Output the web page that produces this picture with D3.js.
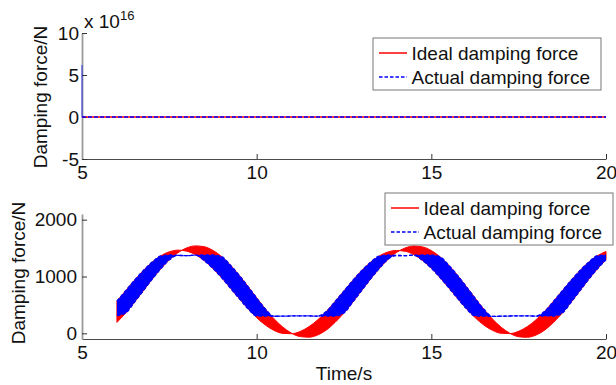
<!DOCTYPE html>
<html>
<head>
<meta charset="utf-8">
<script src="https://cdn.jsdelivr.net/npm/d3@7"></script>
<style>
  body { margin: 0; background: #fff; }
  svg { display: block; font-family: "Liberation Sans", Arial, sans-serif; }
</style>
</head>
<body>
<svg id="chart" width="616" height="385"></svg>
<script>
// ---- data ----
// top subplot: force in units of 1e16 N
const topTime = [5, 5, 20];
const topIdeal = [0, 0, 0];
const topActual = [6.2, 0, 0];

// bottom subplot: the fast oscillation fills a band, kept as its two edges
const time = [6, 6.25, 6.5, 6.75, 7, 7.25, 7.5, 7.75, 8, 8.25, 8.5, 8.75, 9, 9.25, 9.5, 9.75,
  10, 10.25, 10.5, 10.75, 11, 11.25, 11.5, 11.75, 12, 12.25, 12.5, 12.75, 13, 13.25, 13.5, 13.75,
  14, 14.25, 14.5, 14.75, 15, 15.25, 15.5, 15.75, 16, 16.25, 16.5, 16.75, 17, 17.25, 17.5, 17.75,
  18, 18.25, 18.5, 18.75, 19, 19.25, 19.5, 19.75, 20];

const idealLead = [567, 751, 933, 1103, 1249, 1362, 1435, 1464, 1446, 1383, 1279, 1141, 976, 795, 611, 434,
  275, 145, 50, -1, -7, 34, 118, 239, 389, 565, 748, 930, 1100, 1246, 1358, 1430,
  1458, 1444, 1385, 1282, 1145, 980, 800, 615, 437, 278, 147, 52, 0, -5, 36, 120,
  241, 391, 566, 750, 932, 1102, 1250, 1365, 1440];
const idealLag = [193, 356, 545, 745, 945, 1131, 1293, 1420, 1504, 1539, 1524, 1459, 1349, 1200, 1022, 826,
  624, 429, 254, 109, 2, -58, -68, -28, 60, 195, 358, 547, 748, 948, 1134, 1296,
  1422, 1502, 1537, 1521, 1456, 1346, 1198, 1020, 824, 622, 427, 252, 107, 0, -60, -70,
  -30, 58, 194, 357, 546, 746, 946, 1132, 1294];

const actualLead = [567, 751, 933, 1103, 1249, 1362, 1378, 1372, 1366, 1376, 1279, 1141, 976, 795, 611, 434,
  305, 303, 300, 302, 306, 308, 306, 303, 389, 565, 748, 930, 1100, 1246, 1358, 1378,
  1370, 1368, 1375, 1282, 1145, 980, 800, 615, 437, 305, 302, 299, 301, 305, 307, 306,
  304, 391, 566, 750, 932, 1102, 1250, 1365, 1378];
const actualLag = [310, 356, 545, 745, 945, 1131, 1293, 1372, 1366, 1376, 1378, 1378, 1349, 1200, 1022, 826,
  624, 429, 300, 302, 306, 308, 306, 303, 305, 305, 358, 547, 748, 948, 1134, 1296,
  1370, 1368, 1375, 1378, 1378, 1346, 1198, 1020, 824, 622, 427, 299, 301, 305, 307, 306,
  304, 306, 305, 357, 546, 746, 946, 1132, 1294];

const xTicks = [5, 10, 15, 20];
const yTopTicks = [-5, 0, 5, 10];
const yBotTicks = [0, 1000, 2000];
const legendLabels = ['Ideal damping force', 'Actual damping force'];

// ---- layout ----
const RED = '#ff0000';
const BLUE = '#0000ff';
const FONT = 19;
const svg = d3.select('#chart');

const x = d3.scaleLinear().domain([5, 20]).range([82, 606]);
const yTop = d3.scaleLinear().domain([-5, 10]).range([159, 33]);
const yBot = d3.scaleLinear().domain([-100, 2100]).range([339, 214]);

function drawAxes(y, yTicks, bottom, pad) {
  const gx = svg.append('g')
    .attr('transform', `translate(0,${bottom})`)
    .call(d3.axisBottom(x).tickValues(xTicks).tickSizeInner(-5).tickSizeOuter(0).tickPadding(7));
  const gy = svg.append('g')
    .attr('transform', 'translate(82,0)')
    .call(d3.axisLeft(y).tickValues(yTicks).tickSizeInner(-5).tickSizeOuter(0).tickPadding(pad)
      .tickFormat((d) => String(d)));
  gx.select('.domain').attr('stroke', '#4a4a4a');
  gy.select('.domain').attr('stroke', '#9a9a9a').attr('stroke-width', 1.8);
  [gx, gy].forEach((g) => {
    g.attr('font-size', FONT).attr('font-family', null);
    g.selectAll('.tick line').attr('stroke', '#333');
    g.selectAll('.tick text').attr('fill', '#111');
  });
}

function yLabel(bx, cy) {
  svg.append('text')
    .attr('transform', `translate(${bx},${cy}) rotate(-90)`)
    .attr('text-anchor', 'middle')
    .attr('font-size', FONT)
    .attr('fill', '#111')
    .text('Damping force/N');
}

function drawLegend(left, top) {
  const g = svg.append('g').attr('transform', `translate(${left},${top})`);
  g.append('rect')
    .attr('width', 228).attr('height', 52)
    .attr('fill', '#fff').attr('stroke', '#777').attr('stroke-width', 1);
  const rows = [
    { label: legendLabels[0], color: RED, dash: null },
    { label: legendLabels[1], color: BLUE, dash: '3.5,2' },
  ];
  rows.forEach((r, i) => {
    const cy = 15 + i * 24;
    g.append('line')
      .attr('x1', 6).attr('x2', 34).attr('y1', cy).attr('y2', cy)
      .attr('stroke', r.color).attr('stroke-width', 1.5)
      .attr('stroke-dasharray', r.dash);
    g.append('text')
      .attr('x', 38.5).attr('y', cy + 6.5)
      .attr('font-size', FONT).attr('fill', '#111')
      .text(r.label);
  });
}

// ---- top subplot ----
drawAxes(yTop, yTopTicks, 159, 3);
yLabel(47, 97);

const topPts = topTime.map((t, i) => ({ t, ideal: topIdeal[i], actual: topActual[i] }));
svg.append('path')
  .datum(topPts)
  .attr('fill', 'none').attr('stroke', RED).attr('stroke-width', 1.7)
  .attr('d', d3.line().x((d) => x(d.t)).y((d) => yTop(d.ideal)));
// initial spike of the actual force
svg.append('path')
  .datum(topPts.slice(0, 2))
  .attr('fill', 'none').attr('stroke', BLUE).attr('stroke-opacity', 0.4).attr('stroke-width', 1.8)
  .attr('d', d3.line().x((d) => x(d.t)).y((d) => yTop(d.actual)));
svg.append('path')
  .datum(topPts.slice(1))
  .attr('fill', 'none').attr('stroke', BLUE).attr('stroke-width', 1.7)
  .attr('stroke-dasharray', '4,2')
  .attr('d', d3.line().x((d) => x(d.t)).y((d) => yTop(d.actual)));

const expo = svg.append('text')
  .attr('x', 84).attr('y', 28)
  .attr('font-size', FONT).attr('fill', '#111');
expo.append('tspan').text('x 10');
expo.append('tspan').attr('font-size', 13).attr('dy', -8).text('16');

drawLegend(373, 38);

// ---- bottom subplot ----
drawAxes(yBot, yBotTicks, 339, 5);
yLabel(25, 273);

svg.append('text')
  .attr('x', x(12.5)).attr('y', 380)
  .attr('text-anchor', 'middle')
  .attr('font-size', FONT).attr('fill', '#111')
  .text('Time/s');

const pts = time.map((t, i) => ({
  t,
  iA: idealLead[i], iB: idealLag[i],
  aA: actualLead[i], aB: actualLag[i],
}));
const curve = d3.curveMonotoneX;

svg.append('path')
  .datum(pts)
  .attr('fill', RED).attr('stroke', RED).attr('stroke-width', 1)
  .attr('d', d3.area().curve(curve).x((d) => x(d.t)).y0((d) => yBot(d.iA)).y1((d) => yBot(d.iB)));

svg.append('path')
  .datum(pts)
  .attr('fill', BLUE)
  .attr('d', d3.area().curve(curve).x((d) => x(d.t)).y0((d) => yBot(d.aA)).y1((d) => yBot(d.aB)));

['aA', 'aB'].forEach((k) => {
  svg.append('path')
    .datum(pts)
    .attr('fill', 'none').attr('stroke', BLUE).attr('stroke-width', 1.3)
    .attr('stroke-dasharray', '3.5,2')
    .attr('d', d3.line().curve(curve).x((d) => x(d.t)).y((d) => yBot(d[k])));
});

drawLegend(385, 193);
</script>
</body>
</html>
